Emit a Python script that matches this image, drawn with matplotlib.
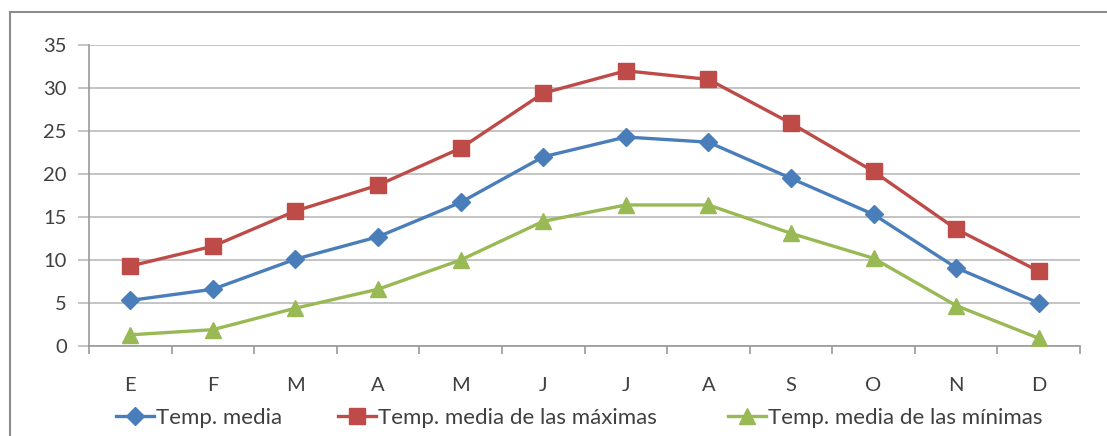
import matplotlib
matplotlib.use("Agg")
import matplotlib.pyplot as plt
from matplotlib.patches import Rectangle

plt.rcParams['font.family'] = ['Lato', 'DejaVu Sans']

meses = ["E", "F", "M", "A", "M", "J", "J", "A", "S", "O", "N", "D"]
temp_media = [5.3, 6.6, 10.1, 12.7, 16.7, 22.0, 24.3, 23.7, 19.5, 15.3, 9.1, 5.0]
temp_max = [9.3, 11.6, 15.7, 18.7, 23.0, 29.4, 32.0, 31.0, 25.9, 20.3, 13.6, 8.7]
temp_min = [1.3, 1.9, 4.4, 6.6, 10.0, 14.5, 16.4, 16.4, 13.1, 10.2, 4.7, 0.9]
y_ticks = [0, 5, 10, 15, 20, 25, 30, 35]

W, H = 1107, 436
fig = plt.figure(figsize=(W / 100, H / 100), dpi=100)

# outer chart frame
fig.patches.append(Rectangle((10 / W, -0.2), 1.2, (H - 12) / H + 0.2,
                             transform=fig.transFigure, fill=False,
                             edgecolor="#8c8c8c", linewidth=1.5))

ax = fig.add_axes([89 / W, (H - 346) / H, (1080 - 89) / W, (346 - 45) / H])
x = list(range(len(meses)))

l1, = ax.plot(x, temp_media, color="#4a7ebb", lw=2.4, marker="D", ms=9,
              label="Temp. media", zorder=3)
l2, = ax.plot(x, temp_max, color="#be4b48", lw=2.4, marker="s", ms=12,
              label="Temp. media de las máximas", zorder=3)
l3, = ax.plot(x, temp_min, color="#98b954", lw=2.4, marker="^", ms=11,
              label="Temp. media de las mínimas", zorder=3)

ax.set_xlim(-0.5, len(meses) - 0.5)
ax.set_ylim(0, 35)
ax.set_yticks(y_ticks)
ax.yaxis.grid(True, color="#bfbfbf", lw=1.3)
ax.set_axisbelow(True)

ax.set_xticks([i - 0.5 for i in range(len(meses) + 1)])
ax.set_xticklabels([])
ax.set_xticks(x, minor=True)
ax.set_xticklabels(meses, minor=True)
ax.tick_params(axis="x", which="major", length=6, color="#999999", width=1.2)
ax.tick_params(axis="x", which="minor", length=0, pad=22, labelsize=14.5,
               labelcolor="#404040")
ax.tick_params(axis="y", length=8, color="#bfbfbf", width=1.3, pad=8,
               labelsize=14.5, labelcolor="#404040")

for s in ("top", "right"):
    ax.spines[s].set_visible(False)
for s in ("left", "bottom"):
    ax.spines[s].set_color("#999999")
    ax.spines[s].set_linewidth(1.2)

# one legend entry per series, each anchored at its own left edge
for line, x0 in ((l1, 116), (l2, 338), (l3, 728)):
    leg = fig.legend(handles=[line], loc="center left",
                     bbox_to_anchor=(x0 / W, (H - 418) / H),
                     frameon=False, fontsize=16, handlelength=1.7,
                     handletextpad=0.1, borderpad=0, borderaxespad=0)
    for t in leg.get_texts():
        t.set_color("#404040")

fig.savefig("out.png", dpi=100)
